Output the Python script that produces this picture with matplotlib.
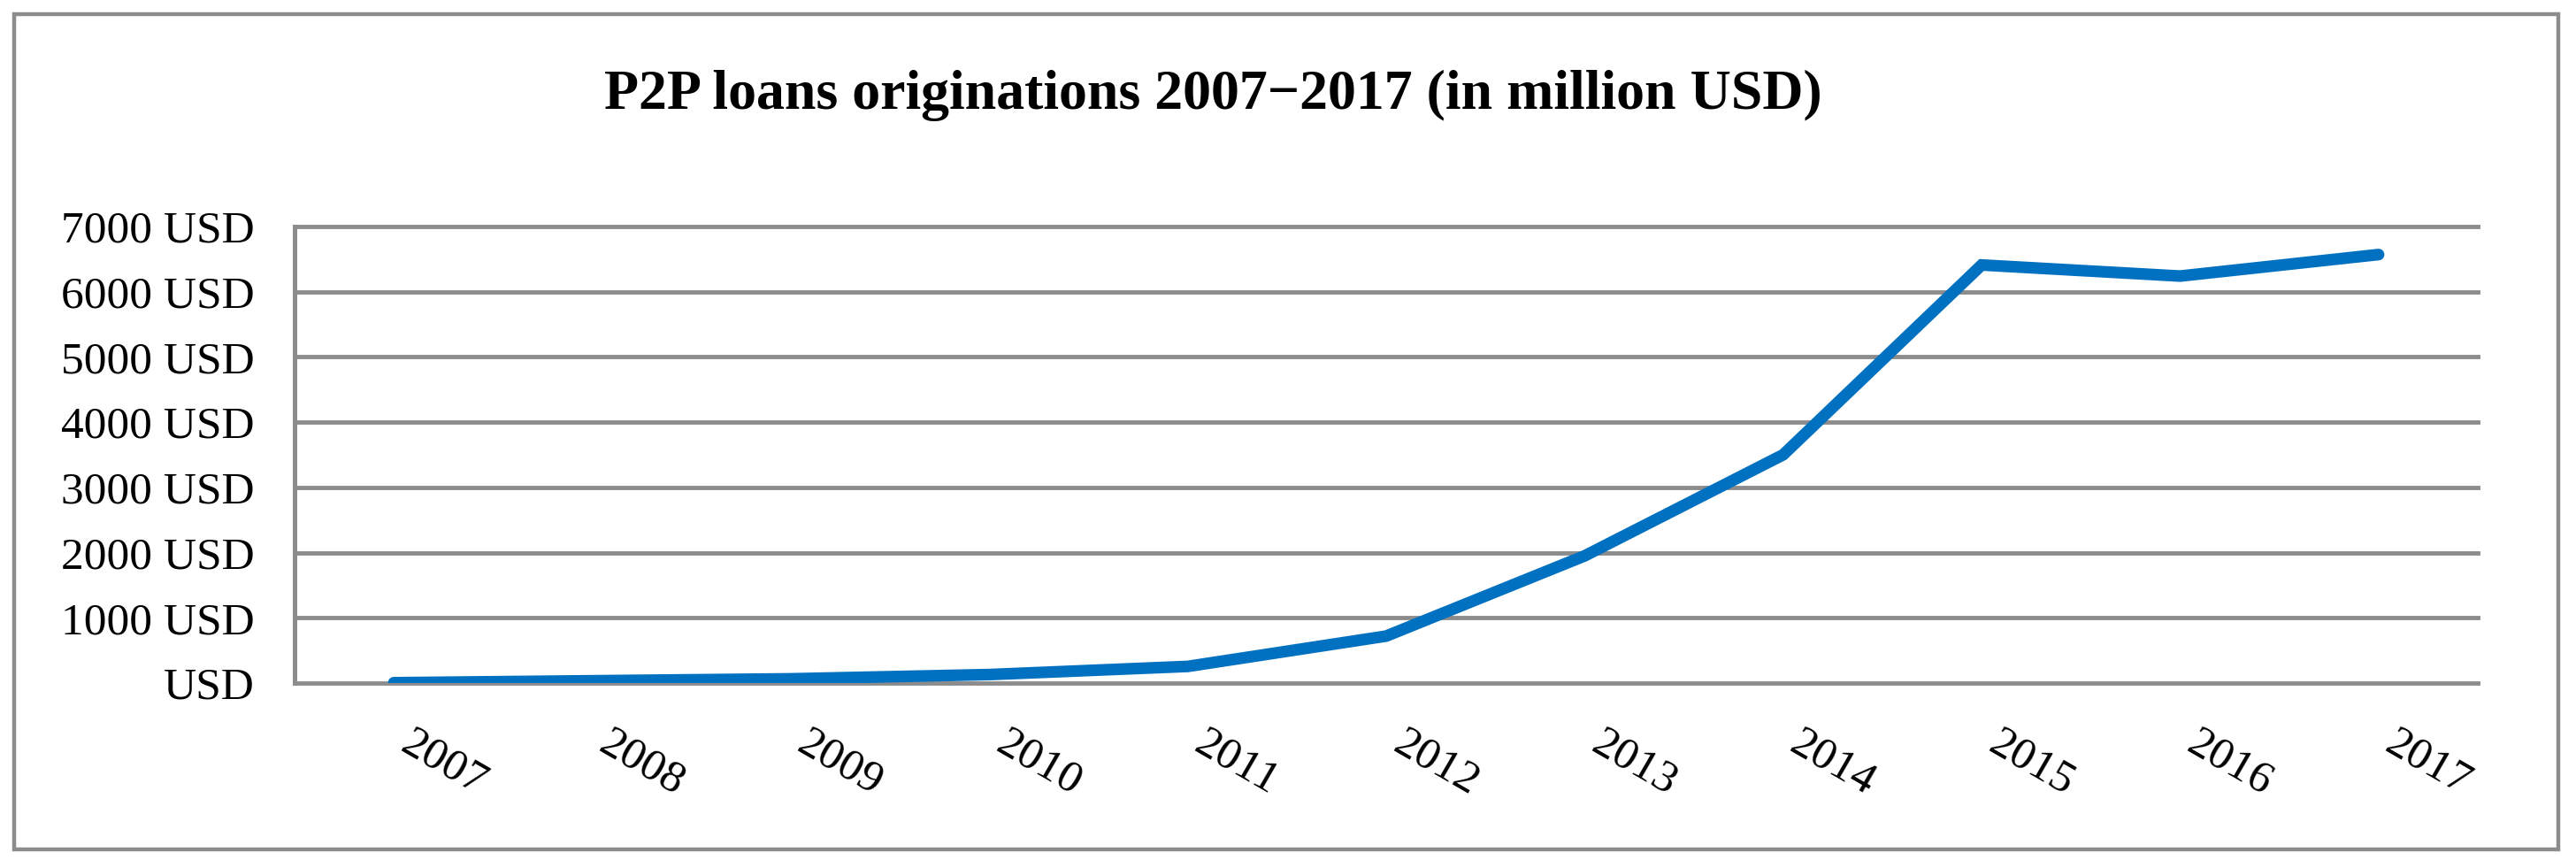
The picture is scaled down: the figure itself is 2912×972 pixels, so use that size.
import matplotlib.pyplot as plt
from matplotlib.patches import Rectangle

# P2P loan originations per year, million USD
years = ['2007', '2008', '2009', '2010', '2011', '2012',
         '2013', '2014', '2015', '2016', '2017']
originations = [5, 35, 65, 130, 255, 720, 1950, 3500, 6410, 6240, 6570]
y_ticks = [0, 1000, 2000, 3000, 4000, 5000, 6000, 7000]
y_labels = ['USD'] + ['%d USD' % v for v in y_ticks[1:]]

grey = '#8c8c8c'
blue = '#0070c0'

plt.rcParams['font.family'] = ['Liberation Serif', 'DejaVu Serif']

fig = plt.figure(figsize=(29.12, 9.72), dpi=100)
W, H = 2912, 972

# outer frame of the chart
fig.patches.append(Rectangle((16 / W, 12 / H), (2892 - 16) / W, (956 - 12) / H,
                             transform=fig.transFigure, fill=False,
                             edgecolor=grey, linewidth=3.2))

ax = fig.add_axes([333 / W, 1 - 772 / H, (2801 - 333) / W, (772 - 256) / H])

x = list(range(len(years)))
ax.plot(x, originations, color=blue, linewidth=9.5,
        solid_capstyle='round', solid_joinstyle='miter', zorder=3)

ax.set_xlim(-0.5, len(years) - 0.5)
ax.set_ylim(0, 7000)
ax.set_yticks(y_ticks)
ax.set_yticklabels(y_labels, fontsize=37)
ax.set_xticks(x)
ax.set_xticklabels(years, fontsize=37, rotation=-30, ha='left', va='top')

ax.grid(axis='y', color=grey, linewidth=3.5)
for gl in ax.get_ygridlines():
    gl.set_clip_on(False)
ax.set_axisbelow(True)
ax.tick_params(axis='both', length=0)
ax.tick_params(axis='y', pad=33)
ax.tick_params(axis='x', pad=32)

for side in ['top', 'right', 'bottom']:
    ax.spines[side].set_visible(False)
ax.spines['left'].set_color(grey)
ax.spines['left'].set_linewidth(3.6)

fig.text(1371 / W, 1 - 123 / H, 'P2P loans originations 2007\u22122017 (in million USD)',
         fontsize=46, fontweight='bold', ha='center', va='baseline')

fig.savefig('out.png', dpi=100)
